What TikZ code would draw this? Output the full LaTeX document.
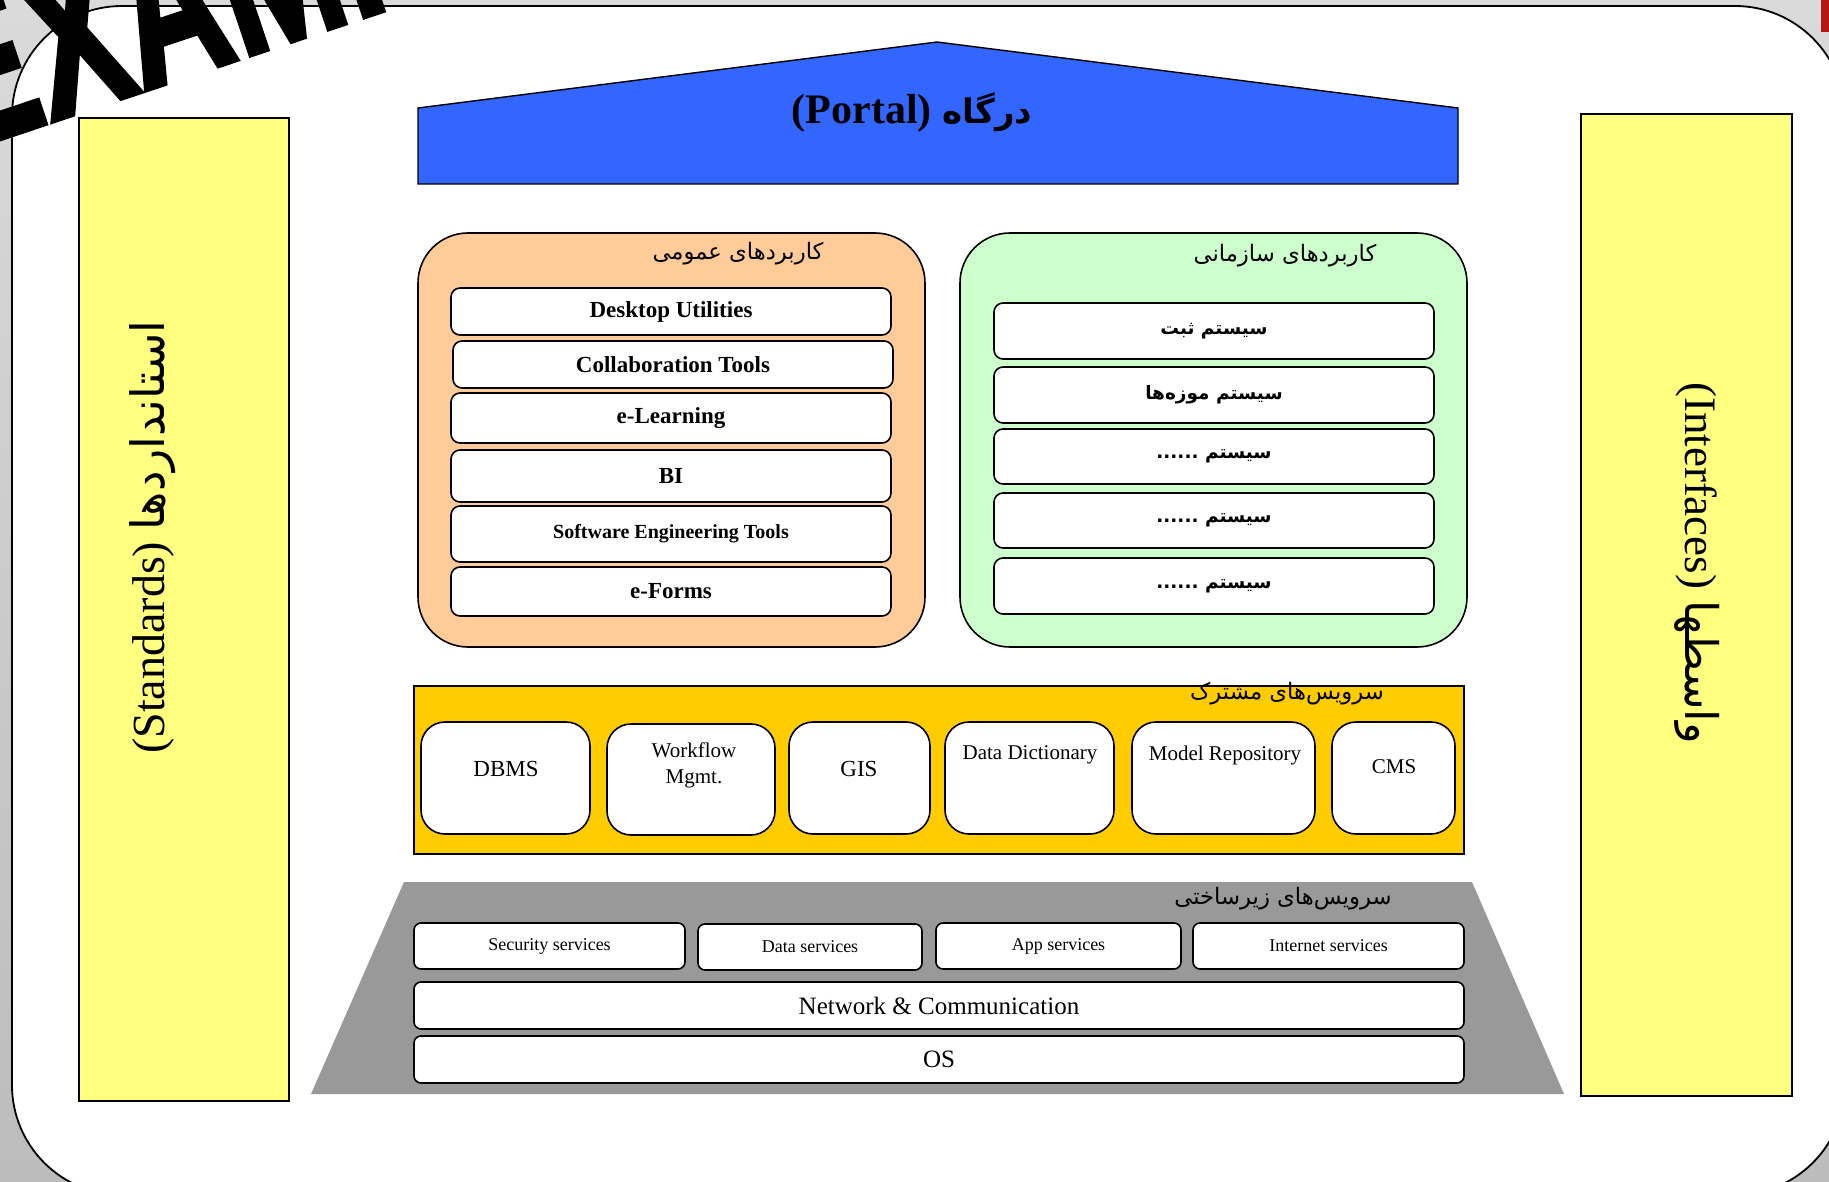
\documentclass[tikz,border=0pt]{standalone}
\usepackage{fontspec}
\setmainfont{Liberation Serif}
\newfontfamily\fa[Script=Arabic]{DejaVu Sans}
\newfontfamily\wmfont[FakeBold=2.5]{Liberation Sans}
\TeXXeTstate=1
\newcommand\fsz[1]{\fontsize{#1}{#1}\selectfont}
\definecolor{yel}{RGB}{255,255,128}
\definecolor{portalblue}{RGB}{51,102,255}
\definecolor{peach}{RGB}{255,204,153}
\definecolor{mint}{RGB}{204,255,204}
\definecolor{gold}{RGB}{255,204,0}
\definecolor{infra}{RGB}{153,153,153}
\definecolor{darkred}{RGB}{180,22,22}
\begin{document}
\begin{tikzpicture}[x=1pt,y=-1pt,
  edge/.style={draw=black,line width=1.6pt},
  sidebar/.style={edge,fill=yel,inner sep=0pt},
  group/.style={edge,rounded corners=50pt,inner sep=0pt},
  item/.style={edge,fill=white,rounded corners=9pt,inner sep=0pt},
  svcbox/.style={edge,fill=white,rounded corners=24pt,inner sep=0pt},
  rowbox/.style={edge,fill=white,rounded corners=7pt,inner sep=0pt,minimum width=1050pt},
  title/.style={font=\fa\fsz{22.7}},
  perbox/.style={item,minimum width=440pt,font=\fa\bfseries\fsz{18.5}},
]
\useasboundingbox (0,0) rectangle (1829,1182);
% background frame
\shade[top color={rgb,255:red,218;green,218;blue,218},bottom color={rgb,255:red,188;green,188;blue,188}] (0,0) rectangle (1829,1182);
\fill[darkred] (1821,0) rectangle (1829,32);
\draw[fill=white,line width=1.8pt,rounded corners=110pt] (12,6) rectangle (1845,1195);
% watermark
\node[anchor=base west,rotate=18.5,inner sep=0pt,font=\wmfont\bfseries\fsz{215}] (wm) at (-40,152) {\scalebox{0.67}[1]{EXAMPLE}};
% side bars
\node[sidebar,minimum width=210pt,minimum height=983pt] (std) at (184,609.5) {};
\node[rotate=90,font=\fsz{46}] (stdt) at (153,537) {(Standards) {\fa استانداردها}};
\node[sidebar,minimum width=211pt,minimum height=982pt] (ifc) at (1686.5,605) {};
\node[rotate=-90,font=\fsz{45}] (ifct) at (1697,563) {(Interfaces) {\fa واسطها}};
% portal
\draw[edge,line width=1.4pt,fill=portalblue] (418,108) -- (937,42) -- (1458,108) -- (1458,184) -- (418,184) -- cycle;
\node[font=\bfseries\fsz{42}] (portal) at (912,113) {(Portal) {\fa\fsz{34}درگاه}};
% general applications
\node[group,fill=peach,minimum width=507pt,minimum height=414pt] (gen) at (671.5,440) {};
\node[title] (gent) at (738,254) {\beginR کاربردهای عمومی\endR};
\node[item,minimum width=440pt,minimum height=47pt,font=\bfseries\fsz{23}] (g1) at (671,311.5) {Desktop Utilities};
\node[item,minimum width=440pt,minimum height=47pt,font=\bfseries\fsz{23}] (g2) at (673,364.5) {Collaboration Tools};
\node[item,minimum width=440pt,minimum height=50pt,font=\bfseries\fsz{23}] (g3) at (671,418) {e-Learning};
\node[item,minimum width=440pt,minimum height=52pt,font=\bfseries\fsz{23}] (g4) at (671,476) {BI};
\node[item,minimum width=440pt,minimum height=56pt,font=\bfseries\fsz{20}] (g5) at (671,534) {Software Engineering Tools};
\node[item,minimum width=440pt,minimum height=49pt,font=\bfseries\fsz{23}] (g6) at (671,591.5) {e-Forms};
% organisational applications
\node[group,fill=mint,minimum width=507pt,minimum height=414pt] (org) at (1213.5,440) {};
\node[title] (orgt) at (1285,256) {\beginR کاربردهای سازمانی\endR};
\node[perbox,minimum height=56pt] (o1) at (1214,331) {\beginR سیستم ثبت\endR};
\node[perbox,minimum height=56pt] (o2) at (1214,395) {\beginR سیستم موزه‌ها\endR};
\node[perbox,minimum height=55pt] (o3) at (1214,456.5) {\beginR سیستم ......\endR};
\node[perbox,minimum height=55pt] (o4) at (1214,520.5) {\beginR سیستم ......\endR};
\node[perbox,minimum height=56pt] (o5) at (1214,586) {\beginR سیستم ......\endR};
% shared services
\node[edge,fill=gold,minimum width=1050pt,minimum height=168pt,inner sep=0pt] (shared) at (939,770) {};
\node[title] (sharedt) at (1287,694) {\beginR سرویس‌های مشترک\endR};
\node[svcbox,minimum width=169pt,minimum height=112pt] (dbms) at (505.5,778) {};
\node[font=\fsz{23}] (dbmst) at (506,769) {DBMS};
\node[svcbox,minimum width=168pt,minimum height=111pt] (wf) at (691,779.5) {};
\node[font=\fontsize{21}{26}\selectfont,align=center] (wft) at (694,765) {Workflow\\Mgmt.};
\node[svcbox,minimum width=141pt,minimum height=112pt] (gis) at (859.5,778) {};
\node[font=\fsz{23}] (gist) at (859,769) {GIS};
\node[svcbox,minimum width=169pt,minimum height=112pt] (dd) at (1029.5,778) {};
\node[font=\fsz{21}] (ddt) at (1030,755) {Data Dictionary};
\node[svcbox,minimum width=183pt,minimum height=112pt] (mr) at (1223.5,778) {};
\node[font=\fsz{21}] (mrt) at (1225,755) {Model Repository};
\node[svcbox,minimum width=123pt,minimum height=112pt] (cms) at (1393.5,778) {};
\node[font=\fsz{21}] (cmst) at (1394,767) {CMS};
% infrastructure
\fill[infra] (311,1094) -- (404,882) -- (1472,882) -- (1564,1094) -- cycle;
\node[title] (infrat) at (1283,899) {\beginR سرویس‌های زیرساختی\endR};
\node[item,rounded corners=7pt,minimum width=271pt,minimum height=46pt,font=\fsz{18}] (sec) at (549.5,946) {Security services};
\node[item,rounded corners=7pt,minimum width=224pt,minimum height=46pt,font=\fsz{18}] (data) at (810,947) {Data services};
\node[item,rounded corners=7pt,minimum width=245pt,minimum height=46pt,font=\fsz{18}] (app) at (1058.5,946) {App services};
\node[item,rounded corners=7pt,minimum width=271pt,minimum height=46pt,font=\fsz{18}] (inet) at (1328.5,946) {Internet services};
\node[rowbox,minimum height=47pt,font=\fsz{25}] (net) at (939,1005.5) {Network \& Communication};
\node[rowbox,minimum height=47pt,font=\fsz{25}] (os) at (939,1059.5) {OS};
\end{tikzpicture}
\end{document}
